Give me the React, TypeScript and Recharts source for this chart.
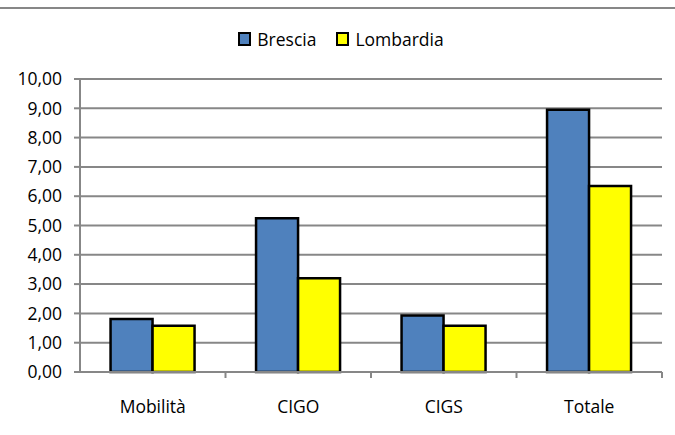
import React from 'react';
import { BarChart, Bar, XAxis, YAxis, CartesianGrid } from 'recharts';

const categories = ['Mobilità', 'CIGO', 'CIGS', 'Totale'];
const brescia = [1.81, 5.25, 1.93, 8.95];
const lombardia = [1.58, 3.2, 1.58, 6.35];
const yTicks = [0, 1, 2, 3, 4, 5, 6, 7, 8, 9, 10];

const data = categories.map((name, i) => ({ name, brescia: brescia[i], lombardia: lombardia[i] }));

const FONT = '"Open Sans", sans-serif';
const GRID = '#878787';
const SIZE = 17.5;

const fmt = (v: number) => v.toFixed(2).replace('.', ',');

function CategoryTick(props: any) {
  const { x, y, payload, index } = props;
  const half = payload.offset ?? 0;
  const last = index === categories.length - 1;
  return (
    <g>
      {index > 0 && <line x1={x - half} x2={x - half} y1={y - 8} y2={y - 2} stroke={GRID} strokeWidth={2} />}
      {last && <line x1={x + half} x2={x + half} y1={y - 8} y2={y - 2} stroke={GRID} strokeWidth={2} />}
      <text x={x} y={y + 33} textAnchor="middle" fontSize={SIZE} fontFamily={FONT} fill="#000">
        {payload.value}
      </text>
    </g>
  );
}

function LegendBox({ color, label }: { color: string; label: string }) {
  return (
    <span style={{ display: 'inline-flex', alignItems: 'center', marginRight: 20 }}>
      <span style={{ width: 9, height: 10, background: color, border: '2px solid #000', marginRight: 6 }} />
      <span>{label}</span>
    </span>
  );
}

export default function App() {
  return (
    <div style={{ position: 'absolute', left: 0, top: 0, width: 675, height: 435, background: '#fff' }}>
      <div style={{ position: 'absolute', left: 0, top: 7, width: 675, height: 0, borderTop: `2px solid ${GRID}` }} />
      <div
        style={{
          position: 'absolute',
          left: 0,
          top: 27,
          width: 675,
          textAlign: 'center',
          fontFamily: FONT,
          fontSize: SIZE,
          color: '#000',
          paddingLeft: 27,
          boxSizing: 'border-box',
        }}
      >
        <LegendBox color="#4f81bd" label="Brescia" />
        <LegendBox color="#ffff00" label="Lombardia" />
      </div>
      <BarChart
        width={675}
        height={435}
        data={data}
        margin={{ top: 79, right: 13, left: 0, bottom: 13 }}
        barCategoryGap="21%"
        barGap={0}
      >
        <CartesianGrid vertical={false} stroke={GRID} strokeWidth={2} />
        <XAxis
          dataKey="name"
          axisLine={{ stroke: GRID, strokeWidth: 2 }}
          tickLine={false}
          tick={<CategoryTick />}
          interval={0}
          height={50}
        />
        <YAxis
          width={80}
          domain={[0, 10]}
          ticks={yTicks}
          tickFormatter={fmt}
          axisLine={{ stroke: GRID, strokeWidth: 2 }}
          tickLine={{ stroke: GRID, strokeWidth: 2 }}
          tickSize={6}
          tickMargin={12}
          tick={{ fontSize: SIZE, fontFamily: FONT, fill: '#000' }}
          interval={0}
        />
        <Bar dataKey="brescia" fill="#4f81bd" stroke="#000" strokeWidth={2.5} isAnimationActive={false} />
        <Bar dataKey="lombardia" fill="#ffff00" stroke="#000" strokeWidth={2.5} isAnimationActive={false} />
      </BarChart>
    </div>
  );
}
